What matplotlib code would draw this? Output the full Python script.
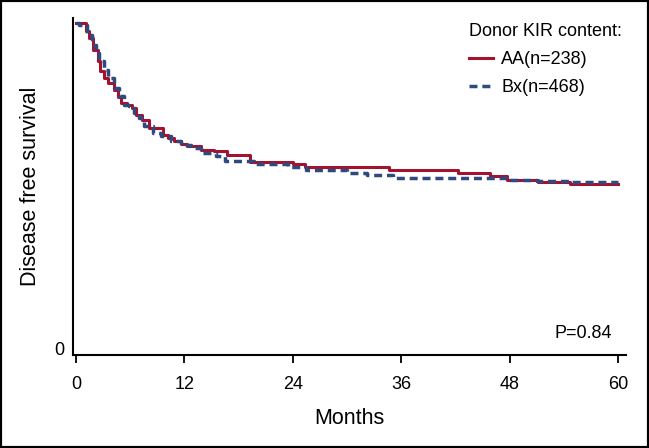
import matplotlib
matplotlib.use('Agg')
import matplotlib.pyplot as plt
from matplotlib.patches import Rectangle

# Donnees (mois, survie sans maladie)
aa_months = [0, 1.1, 1.4, 1.9, 2.4, 2.7, 3.1, 3.5, 4.2, 4.6, 5.0, 5.7, 6.2, 6.6, 7.3,
             8.1, 9.6, 10.2, 10.9, 11.6, 12.3, 13.8, 15.3, 16.7, 19.3, 24.0, 25.4,
             34.6, 42.3, 45.8, 47.7, 51.1, 54.7, 60.0]
aa_surv = [1.0, 0.975, 0.954, 0.918, 0.883, 0.852, 0.832, 0.815, 0.795, 0.772, 0.754,
           0.747, 0.738, 0.718, 0.702, 0.677, 0.656, 0.646, 0.636, 0.628, 0.621, 0.610,
           0.605, 0.593, 0.571, 0.566, 0.557, 0.548, 0.539, 0.530, 0.517, 0.512, 0.505,
           0.505]

bx_months = [0, 0.3, 1.25, 1.8, 2.2, 2.55, 3.1, 3.5, 4.2, 4.8, 5.3, 5.9, 6.4, 7.0, 7.5,
             8.5, 9.4, 10.5, 11.6, 12.7, 13.8, 15.5, 16.5, 19.7, 23.5, 25.5, 30.0, 32.2,
             35.1, 47.7, 51.0, 54.7, 60.0]
bx_surv = [1.0, 0.995, 0.964, 0.933, 0.908, 0.882, 0.856, 0.831, 0.800, 0.775, 0.749,
           0.744, 0.723, 0.708, 0.682, 0.662, 0.651, 0.636, 0.626, 0.615, 0.600, 0.590,
           0.576, 0.566, 0.558, 0.548, 0.539, 0.532, 0.522, 0.517, 0.515, 0.512, 0.512]

x_ticks = [0, 12, 24, 36, 48, 60]
labels = ['AA(n=238)', 'Bx(n=468)']
p_value = 'P=0.84'

red = '#a3122f'
blue = '#2e4a7e'

plt.rcParams['font.family'] = ['Liberation Sans', 'DejaVu Sans']

fig = plt.figure(figsize=(6.49, 4.48), dpi=100)
ax = fig.add_axes([73 / 649, 1 - 355 / 448, 553 / 649, 337 / 448])

ax.plot(aa_months, aa_surv, drawstyle='steps-post', color=red, lw=2.2, label=labels[0])
ax.plot(bx_months, bx_surv, drawstyle='steps-post', color=blue, lw=2.5,
        dashes=(2.3, 1.4), label=labels[1])

ax.set_xlim(-0.33, 60.89)
ax.set_ylim(-0.0215, 1.0154)
ax.set_xticks(x_ticks)
ax.set_yticks([0])
ax.set_yticklabels(['0'])

for side in ['top', 'right']:
    ax.spines[side].set_visible(False)
for side in ['left', 'bottom']:
    ax.spines[side].set_linewidth(1.5)

ax.tick_params(axis='x', direction='out', length=6, width=1.3, pad=9, labelsize=13)
ax.tick_params(axis='y', length=0, pad=6, labelsize=13)

ax.set_xlabel('Months', fontsize=15.5, labelpad=11)
ax.set_ylabel('Disease free survival', fontsize=15.5, labelpad=10)

leg = ax.legend(title='Donor KIR content:', loc='upper left', bbox_to_anchor=(0.699, 1.012),
                frameon=False, fontsize=13, title_fontsize=13, handlelength=1.35,
                handletextpad=0.45, labelspacing=0.62, borderpad=0, alignment='left')

ax.text(0.975, 0.065, p_value, transform=ax.transAxes, ha='right', va='center', fontsize=13)

# cadre noir autour de la figure
fig.patches.append(Rectangle((0, 0), 1, 1, transform=fig.transFigure, fill=False,
                             edgecolor='black', lw=3, clip_on=False))

fig.savefig('out.png', dpi=100)
